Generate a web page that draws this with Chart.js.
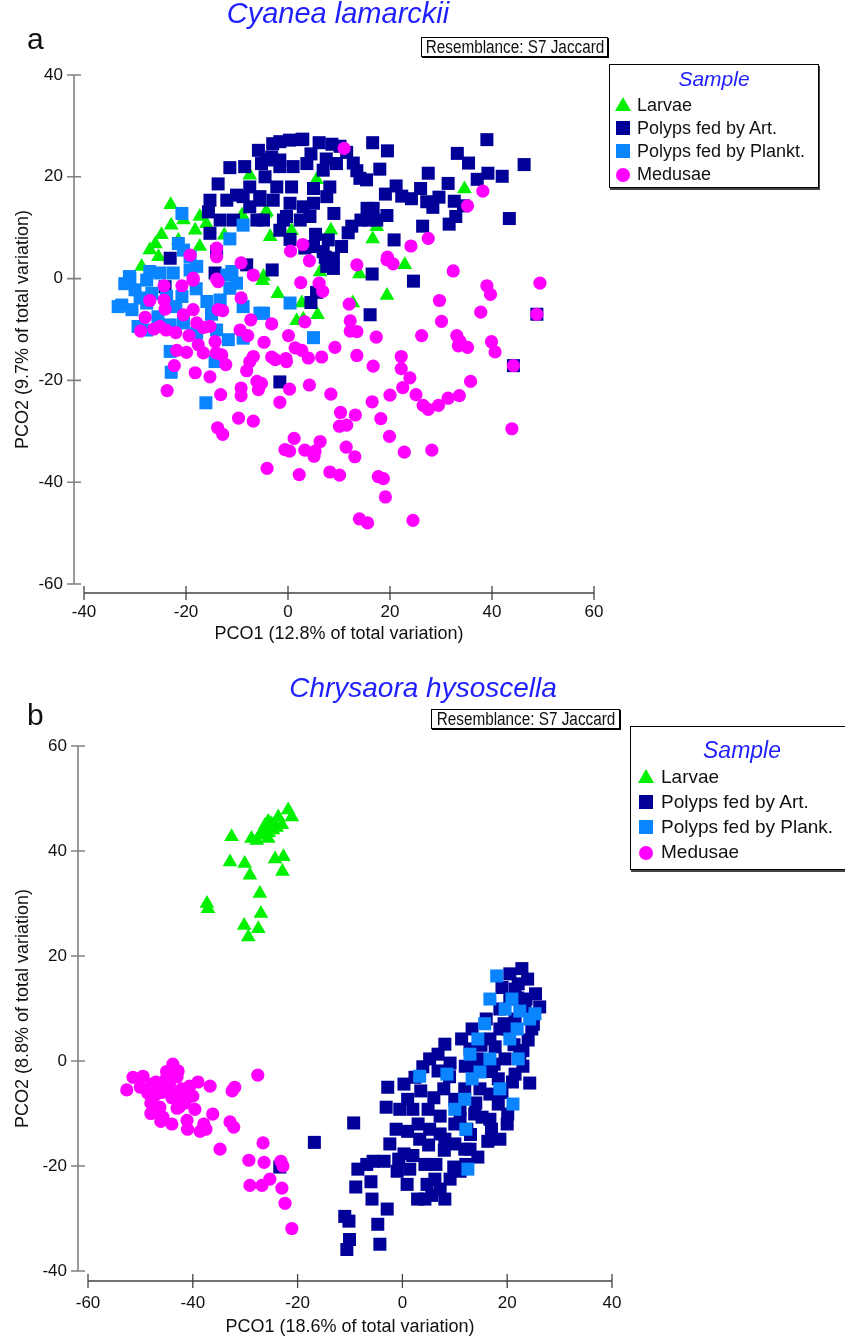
<!DOCTYPE html>
<html>
<head>
<meta charset="utf-8">
<script src="https://cdn.jsdelivr.net/npm/chart.js"></script>
<style>
  body { margin: 0; background: #fff; font-family: Arial, "Liberation Sans", sans-serif; color: #111; }
  #page { position: relative; width: 845px; height: 1339px; overflow: hidden; }
  canvas { position: absolute; left: 0; }
  .abs { position: absolute; white-space: nowrap; }
  .title { font-style: italic; color: #1e1eff; transform: translateX(-50%); }
  .letter { font-size: 30px; line-height: 30px; }
  .resem { border: 1px solid #000; box-shadow: 1px 1px 0 #000; background: #fff; }
  .resem span { position: absolute; left: 50%; top: 0; white-space: nowrap; transform: translateX(-50%) scaleX(0.85); }
  .legend { border: 1px solid #000; box-shadow: 1px 2px 0 #444; background: #fff; }
  .legend .head { position: absolute; left: 0; right: 0; text-align: center; font-style: italic; color: #1e1eff; }
  .legend .row { position: absolute; white-space: nowrap; }
  .mk { position: absolute; }
</style>
</head>
<body>
<div id="page">
  <canvas id="chartA" width="845" height="660" style="top:0"></canvas>
  <canvas id="chartB" width="845" height="669" style="top:670px"></canvas>

  <div class="abs letter" style="left:27px;top:24px;">a</div>
  <div class="abs title" style="left:338px;top:-3px;font-size:29px;line-height:32px;">Cyanea lamarckii</div>
  <div class="abs resem" style="left:421px;top:37px;width:185px;height:18px;font-size:18px;line-height:18px;"><span>Resemblance: S7 Jaccard</span></div>
  <div class="abs legend" id="legendA" style="left:609px;top:64px;width:208px;height:122px;"></div>

  <div class="abs letter" style="left:27px;top:700px;">b</div>
  <div class="abs title" style="left:423px;top:672px;font-size:28px;line-height:32px;">Chrysaora hysoscella</div>
  <div class="abs resem" style="left:431px;top:709px;width:187px;height:18px;font-size:18px;line-height:18px;"><span>Resemblance: S7 Jaccard</span></div>
  <div class="abs legend" id="legendB" style="left:630px;top:726px;width:222px;height:142px;"></div>
</div>

<script>
// categories
const categoriesA = ['Larvae', 'Polyps fed by Art.', 'Polyps fed by Plankt.', 'Medusae'];
const categoriesB = ['Larvae', 'Polyps fed by Art.', 'Polyps fed by Plank.', 'Medusae'];
const colours = ['#00f000', '#000099', '#0a84ff', '#ff00ff'];

// axis ticks
const xTicksA = [-40, -20, 0, 20, 40, 60];
const yTicksA = [-60, -40, -20, 0, 20, 40];
const xTicksB = [-60, -40, -20, 0, 20, 40];
const yTicksB = [-40, -20, 0, 20, 40, 60];

// ---- panel a: Cyanea lamarckii (PCO1, PCO2) ----
const larvaeA = [[6.3,1.3],[14.0,0.9],[22.9,2.7],[19.4,-3.3],[2.7,-4.8],[12.7,-4.8],[5.8,-7.1],[1.7,-8.3],[-5.0,-0.4],
  [34.6,17.6],[16.6,7.8],[8.4,9.5],[0.7,9.4],[-3.5,8.2],[-4.5,12.8],[17.4,10.2],[5.6,19.4],[-23.0,14.5],[-17.3,12.2],
  [-18.2,9.5],[-22.9,10.5],[-24.8,8.6],[-27.1,5.6],[-28.7,2.4],[-25.4,4.3],[-7.5,20.3],[-4.8,0.4],[-17.3,6.3],[-4.2,13.1],
  [-20.5,11.5],[-16.0,10.8],[-21.5,7.5],[-26.0,6.8],[-12.5,8.5],[-9.0,12.5],[-2.0,-3.0],[3.0,-8.0]];

const artA = [[-3.1,1.7],[8.9,2.0],[16.5,0.9],[24.6,-0.5],[5.6,-2.7],[4.5,-4.7],[16.1,-7.1],[48.8,-7.0],[44.2,-17.1],[-1.6,-20.3],
  [0.3,27.2],[2.9,27.4],[6.1,26.7],[8.6,26.4],[10.2,26.0],[16.6,26.7],[19.5,25.1],[39.0,27.3],[33.2,24.6],[35.4,22.7],
  [46.3,22.4],[27.5,20.7],[31.4,18.7],[39.2,20.7],[37.1,19.5],[42.0,20.1],[21.2,18.2],[19.1,16.6],[26.0,17.7],[22.3,16.2],
  [24.2,15.7],[27.2,15.1],[29.6,16.0],[28.4,14.0],[32.6,15.2],[34.4,14.3],[32.9,12.2],[31.6,10.7],[26.4,10.3],[43.4,11.8],
  [20.8,7.6],[15.5,13.8],[16.7,13.8],[19.4,12.4],[17.4,11.5],[15.7,11.5],[14.3,11.5],[12.5,10.3],[11.8,9.0],[10.5,6.3],
  [9.0,12.8],[7.9,7.6],[7.3,4.2],[0.4,7.7],[3.3,6.0],[5.4,8.7],
  [-4.2,23.3],[-1.6,23.3],[1.0,22.0],[3.7,22.6],[6.9,21.3],[9.5,22.6],[12.8,22.7],[14.1,19.7],[15.4,19.4],[-2.2,18.0],
  [0.7,18.0],[5.0,17.7],[8.2,18.0],[-5.5,16.1],[-2.9,15.4],[0.4,14.8],[3.0,14.1],[5.0,14.8],[7.6,16.1],[-0.3,12.2],
  [2.4,11.5],[4.3,12.2],[-4.8,11.5],
  [-5.8,25.2],[-1.6,26.9],[2.7,27.3],[-11.4,21.8],[-13.7,18.6],[-15.3,15.4],[-15.6,13.1],[-15.3,8.9],[-12.0,15.4],[-10.1,16.4],
  [-7.5,18.0],[-4.5,20.0],[-1.6,22.0],[-3.2,23.9],[-5.2,22.6],[-13.3,11.5],[-10.7,11.5],[-6.1,11.5],[-7.5,14.1],[-8.8,16.1],
  [-5.5,15.4],[-0.9,11.5],[-1.6,9.5],[8.9,4.0],[7.6,2.4],[5.0,6.3],[-14.0,5.3],[-23.1,4.0],[-14.3,1.1],[-8.1,2.7],[6.9,5.3],
  [-24.1,-1.6],[11.5,24.8],[13.5,21.2],[18.0,21.5],[-8.5,22.0],[4.5,24.5],[7.5,23.5],[-3.0,26.5]];

const planktA = [[0.4,-4.8],[-4.8,-6.8],[5.0,-11.6],
  [-20.8,12.8],[-8.8,10.5],[-11.4,7.8],[-21.5,6.9],[-20.5,5.6],[-19.2,4.3],[-17.9,2.4],[-22.5,1.1],[-27.1,1.4],[-31.1,0.4],[-11.0,1.4],
  [-31.0,0.1],[-27.7,-0.3],[-30.0,-2.2],[-32.6,-5.2],[-26.7,-2.9],[-20.8,-3.5],[-19.2,1.7],[-12.0,0.7],[-10.1,-0.9],[-15.9,-4.5],
  [-13.3,-4.2],[-8.8,-5.5],[-5.5,-6.8],[-29.4,-9.4],[-27.7,-10.1],[-23.1,-9.1],[-20.5,-8.7],[-17.9,-10.7],[-14.0,-10.1],[-11.7,-12.0],
  [-8.8,-11.7],[-23.1,-14.3],[-14.3,-16.3],[-22.9,-18.4],[-16.1,-24.4],[-11.4,-1.9],[-23.8,-3.5],[-25.1,1.1],[-30.6,-6.1],[-27.7,-4.8],
  [-33.3,-5.5],[-18.0,-2.0],[-22.0,-5.5],[-15.0,-7.0],[-25.5,-7.5],[-32.0,-1.0],[-29.0,-3.8]];

const medusaeA = [[4.2,3.5],[13.5,2.7],[20.6,2.9],[19.4,3.7],[32.4,1.5],[49.4,-0.9],[39.0,-1.4],[39.7,-3.1],[2.5,-0.8],[6.1,-0.9],
  [6.8,-2.5],[12.0,-5.0],[29.7,-4.3],[37.8,-6.6],[48.8,-7.0],[-3.2,-8.9],[3.3,-8.5],[12.2,-8.3],[30.1,-8.4],[12.2,-10.3],
  [13.5,-10.4],[26.2,-11.2],[17.3,-11.5],[33.1,-11.2],[33.7,-12.3],[33.4,-13.2],[35.2,-13.5],[39.9,-12.4],[40.6,-14.4],[-4.7,-12.5],
  [0.1,-11.2],[1.4,-13.6],[2.7,-14.1],[4.0,-15.6],[6.6,-15.4],[9.2,-13.5],[13.5,-15.1],[-3.2,-15.4],[-2.5,-15.9],[-0.4,-15.7],
  [-0.3,-16.3],[16.7,-17.2],[22.2,-15.3],[22.2,-17.7],[23.9,-19.5],[44.2,-17.1],[35.8,-20.2],[-5.2,-20.6],[0.3,-21.7],[4.2,-20.9],
  [8.4,-22.7],[20.0,-22.9],[22.5,-21.4],[25.1,-22.8],[26.5,-24.9],[27.5,-25.7],[29.5,-24.9],[31.4,-23.5],[33.6,-23.0],[-1.6,-24.3],
  [16.5,-24.2],[10.3,-26.3],[13.2,-26.8],[18.2,-27.5],[10.1,-29.0],[11.5,-28.8],[43.9,-29.5],[19.9,-31.0],[1.2,-31.4],[6.3,-32.0],
  [-0.6,-33.6],[0.3,-33.9],[3.3,-33.7],[5.3,-33.9],[5.1,-34.9],[11.4,-33.1],[13.1,-35.0],[22.8,-34.1],[28.2,-33.7],[-4.1,-37.3],
  [2.2,-38.5],[8.2,-38.0],[10.1,-38.6],[17.7,-38.9],[18.7,-39.3],[19.1,-42.9],[14.0,-47.2],[15.6,-48.0],[24.5,-47.5],
  [11.0,25.6],[38.2,17.2],[35.2,14.3],[27.5,7.9],[24.1,6.4],[19.5,4.2],[0.5,5.4],[2.9,6.7],
  [-14.0,6.0],[-19.2,4.6],[-14.0,4.3],[-9.2,3.1],[-6.8,0.7],[-18.6,0.1],[-14.0,-0.1],
  [-24.3,-1.4],[-20.8,-1.4],[-18.6,-0.3],[-13.7,-0.6],[-27.1,-4.3],[-24.3,-4.2],[-24.1,-6.0],[-18.6,-6.1],[-20.5,-7.1],[-13.7,-6.1],
  [-12.8,-6.3],[-9.2,-3.8],[-7.3,-8.1],[-28.0,-7.6],[-28.9,-10.3],[-26.3,-9.9],[-25.1,-9.4],[-23.9,-10.1],[-22.0,-10.6],[-19.4,-11.2],
  [-17.9,-8.7],[-16.6,-9.6],[-15.3,-9.4],[-9.4,-10.1],[-7.9,-11.2],[-14.3,-12.4],[-21.8,-14.1],[-19.9,-14.5],[-17.6,-13.0],[-16.6,-14.6],
  [-14.1,-14.6],[-13.0,-15.0],[-12.2,-16.9],[-6.8,-15.3],[-7.5,-16.3],[-8.1,-18.1],[-22.3,-17.1],[-18.2,-18.5],[-15.3,-19.3],[-23.7,-22.0],
  [-13.2,-22.8],[-9.2,-21.5],[-9.2,-23.0],[-6.1,-20.2],[-5.8,-21.8],[-9.7,-27.4],[-6.8,-28.0],[-13.8,-29.3],[-12.8,-30.6]];

// ---- panel b: Chrysaora hysoscella ----
const larvaeB = [[-21.8,47.8],[-21.1,46.5],[-23.7,46.5],[-25.6,45.6],[-25.0,45.2],[-26.2,44.9],[-24.7,44.0],[-26.6,43.6],[-27.2,43.0],
  [-28.8,42.4],[-27.8,42.0],[-25.6,42.4],[-32.6,42.7],[-24.3,38.5],[-22.7,38.9],[-22.9,36.1],[-32.9,37.9],[-30.1,37.6],[-29.1,35.4],
  [-27.2,31.9],[-37.3,30.0],[-37.1,29.0],[-27.0,28.1],[-30.2,25.8],[-27.5,25.2],[-29.4,23.6],[-24.0,44.5],[-25.5,43.5],[-23.0,45.0]];

const artB = [[-16.8,-15.5],[-9.3,-11.8],[-8.9,-24.0],[-11.0,-29.6],[-10.2,-30.5],[-10.6,-35.9],[-10.1,-34.0],[-4.3,-34.9],[-4.7,-31.1],
  [-2.9,-28.2],[-5.8,-26.3],[-8.5,-20.6],[-6.8,-19.7],[-5.6,-19.1],[-3.5,-19.1],[-0.7,-18.7],[0.9,-23.5],[2.9,-26.3],[4.3,-26.3],
  [4.7,-23.5],[5.6,-25.6],[7.2,-24.4],[9.1,-22.5],[9.8,-20.2],[11.0,-21.0],[12.1,-19.7],[12.9,-16.8],[14.4,-18.3],[16.3,-15.3],
  [18.6,-14.9],[-2.4,-15.8],[-1.2,-13.0],[-0.5,-9.2],[1.0,-13.4],[2.0,-9.2],[3.5,-5.7],[4.9,-9.2],[5.2,-13.0],[7.2,-10.5],
  [7.9,-5.3],[6.8,-1.9],[9.1,-0.4],[10.0,-7.3],[11.0,-9.2],[11.9,-5.3],[12.9,2.3],[13.8,-1.5],[14.8,-5.3],[15.2,-10.7],
  [16.7,4.2],[17.5,-0.6],[18.3,-8.2],[19.4,7.1],[20.5,11.8],[21.3,3.1],[22.1,14.7],[22.8,17.6],[23.4,9.9],[24.7,6.1],
  [24.3,-4.2],[21.5,-2.5],[20.1,-10.1],[22.4,0.8],[26.2,10.3],[25.4,12.8],[18.6,9.9],[13.3,6.1],[11.3,4.2],[8.1,3.2],
  [6.8,1.3],[5.2,0.4],[3.9,-1.1],[2.4,-3.1],[0.3,-4.4],[-2.8,-5.0],[1.0,-7.3],[-3.1,-8.8],[0.3,-17.7],[4.3,-19.7],
  [6.4,-19.7],[8.1,-14.9],[10.0,-15.8],[12.3,-13.0],[13.8,-10.1],[16.7,-6.3],[18.3,-3.4],[19.6,0.4],[15.7,-1.5],[14.4,0.4],
  [17.7,2.7],[20.1,6.1],[21.5,8.0],[23.9,15.6],[20.5,16.6],[21.5,13.7],[23.6,11.8],[18.6,6.1],[16.7,-11.1],[11.9,-16.8],
  [10.0,-12.0],[7.2,-13.9],[3.3,-14.9],[1.4,-20.6],[6.2,-22.5],[8.1,-26.3],[-23.4,-20.2],
  [3.0,-12.0],[6.0,-7.0],[9.0,-3.0],[12.0,-1.0],[15.0,3.0],[17.0,-2.0],[19.0,-6.0],[21.0,-4.0],[23.0,2.0],[24.0,4.0],
  [22.0,12.0],[19.0,14.0],[16.0,8.0],[14.0,-8.0],[11.0,-11.0],[8.0,-17.0],[5.0,-16.0],[2.0,-18.0],[-1.0,-21.0],[-6.0,-23.0],
  [13.0,-14.0],[17.0,-13.0],[20.0,-12.0],[23.0,-1.0],[25.0,7.0]];

const planktB = [[18.0,16.2],[20.9,11.8],[22.4,9.5],[25.3,9.0],[19.6,9.9],[16.7,11.8],[15.7,7.1],[14.4,4.2],[12.9,1.3],[21.9,6.1],
  [20.5,4.2],[22.1,0.4],[16.7,0.4],[14.8,-2.1],[13.3,-3.4],[11.9,-7.3],[10.0,-9.2],[12.1,-13.0],[12.5,-20.6],[8.5,-2.5],
  [3.3,-2.9],[21.1,-8.2],[18.6,-5.3],[24.3,8.0]];

const medusaeB = [[-52.6,-5.5],[-51.4,-3.1],[-49.5,-2.9],[-48.6,-6.1],[-47.8,-4.4],[-47.2,-6.5],[-46.3,-8.8],[-45.7,-10.7],[-45.1,-3.4],
  [-44.4,-4.2],[-43.8,-0.6],[-43.4,-6.7],[-42.8,-1.9],[-42.6,-8.8],[-42.1,-5.3],[-41.5,-8.0],[-41.1,-11.3],[-40.6,-4.8],[-40.0,-6.7],
  [-39.6,-9.2],[-38.6,-13.4],[-37.9,-12.0],[-37.5,-13.0],[-36.7,-4.8],[-36.2,-10.1],[-34.8,-16.8],[-32.9,-11.6],[-32.5,-5.7],[-32.0,-5.0],
  [-32.2,-12.6],[-29.3,-18.9],[-27.6,-2.7],[-26.6,-15.6],[-26.4,-19.3],[-29.1,-23.7],[-26.8,-23.7],[-25.3,-22.5],[-23.2,-19.1],[-23.0,-24.2],
  [-22.8,-20.0],[-22.4,-27.1],[-21.1,-31.9],[-46.9,-9.2],[-46.1,-11.5],
  [-44.0,-7.0],[-45.0,-5.0],[-43.0,-9.0],[-47.0,-4.0],[-48.0,-8.0],[-44.0,-12.0],[-41.0,-13.0],[-43.0,-3.0],[-45.0,-2.0],[-46.0,-6.0],
  [-50.0,-5.0],[-43.0,-6.0],[-41.0,-7.0],[-39.0,-4.0],[-48.0,-10.0]];

const toXY = arr => arr.map(p => ({ x: p[0], y: p[1] }));

// axis lines drawn a few pixels away from the plot area, with ticks crossing them
const axisLines = {
  id: 'axisLines',
  afterDraw(chart, args, opts) {
    const { ctx, chartArea } = chart;
    const xs = chart.scales.x, ys = chart.scales.y;
    const ax = chartArea.left - opts.yGap;
    const ay = chartArea.bottom + opts.xGap;
    ctx.save();
    ctx.strokeStyle = '#808080';
    ctx.lineWidth = 1.6;
    ctx.beginPath();
    ctx.moveTo(ax, ys.getPixelForValue(opts.yTicks[0]));
    ctx.lineTo(ax, ys.getPixelForValue(opts.yTicks[opts.yTicks.length - 1]));
    opts.yTicks.forEach(v => {
      const p = ys.getPixelForValue(v);
      ctx.moveTo(ax - 7, p);
      ctx.lineTo(ax + 7, p);
    });
    ctx.stroke();
    ctx.strokeStyle = '#444';
    ctx.lineWidth = 1.3;
    ctx.beginPath();
    ctx.moveTo(xs.getPixelForValue(opts.xTicks[0]), ay);
    ctx.lineTo(xs.getPixelForValue(opts.xTicks[opts.xTicks.length - 1]), ay);
    opts.xTicks.forEach(v => {
      const p = xs.getPixelForValue(v);
      ctx.moveTo(p, ay - 7);
      ctx.lineTo(p, ay + 7);
    });
    ctx.stroke();
    ctx.restore();
  }
};

function datasets(cats, l, a, p, m) {
  return [
    { label: cats[0], data: toXY(l), pointStyle: 'triangle', pointRadius: 8.5, backgroundColor: colours[0], order: 4 },
    { label: cats[1], data: toXY(a), pointStyle: 'rect', pointRadius: 9.2, backgroundColor: colours[1], order: 3 },
    { label: cats[2], data: toXY(p), pointStyle: 'rect', pointRadius: 9.2, backgroundColor: colours[2], order: 2 },
    { label: cats[3], data: toXY(m), pointStyle: 'circle', pointRadius: 6.6, backgroundColor: colours[3], order: 1 }
  ].map(d => Object.assign(d, { borderWidth: 0, pointHoverRadius: d.pointRadius, clip: false }));
}

const family = 'Arial, "Liberation Sans", sans-serif';
const tickFont = { size: 17, family: family };
const titleFont = { size: 18, family: family };

function makeChart(id, sets, c) {
  return new Chart(document.getElementById(id), {
    type: 'scatter',
    data: { datasets: sets },
    options: {
      responsive: false,
      animation: false,
      events: [],
      layout: { padding: c.padding },
      plugins: {
        legend: { display: false },
        tooltip: { enabled: false },
        axisLines: { xGap: c.xGap, yGap: 10, xTicks: c.xTicks, yTicks: c.yTicks }
      },
      scales: {
        x: {
          type: 'linear', min: c.xTicks[0], max: c.xTicks[c.xTicks.length - 1],
          grid: { display: false, drawTicks: false }, border: { display: false },
          ticks: { stepSize: 20, padding: c.xPad, color: '#111', font: tickFont, maxRotation: 0 },
          title: { display: true, text: c.xTitle, color: '#111', font: titleFont, padding: { top: 0, bottom: c.xTitlePad } },
          afterFit: s => { s.height = c.xHeight; }
        },
        y: {
          type: 'linear', min: c.yTicks[0], max: c.yTicks[c.yTicks.length - 1],
          grid: { display: false, drawTicks: false }, border: { display: false },
          ticks: { stepSize: 20, padding: 21, color: '#111', font: tickFont },
          title: { display: true, text: c.yTitle, color: '#111', font: titleFont, padding: { top: 12, bottom: 0 } },
          afterFit: s => { s.width = c.yWidth; }
        }
      }
    },
    plugins: [axisLines]
  });
}

makeChart('chartA', datasets(categoriesA, larvaeA, artA, planktA, medusaeA), {
  padding: { left: 0, top: 75, right: 251, bottom: 0 },
  yWidth: 84, xHeight: 76, xGap: 9, xPad: 18, xTitlePad: 15,
  xTicks: xTicksA, yTicks: yTicksA,
  xTitle: 'PCO1 (12.8% of total variation)', yTitle: 'PCO2 (9.7% of total variation)'
});

makeChart('chartB', datasets(categoriesB, larvaeB, artB, planktB, medusaeB), {
  padding: { left: 0, top: 76, right: 233, bottom: 0 },
  yWidth: 88, xHeight: 68, xGap: 10, xPad: 22, xTitlePad: 1,
  xTicks: xTicksB, yTicks: yTicksB,
  xTitle: 'PCO1 (18.6% of total variation)', yTitle: 'PCO2 (8.8% of total variation)'
});

// legend boxes
function buildLegend(id, cats, g) {
  const box = document.getElementById(id);
  const head = document.createElement('div');
  head.className = 'head';
  head.textContent = 'Sample';
  head.style.cssText = `top:${g.headTop}px;font-size:${g.headSize}px;line-height:${g.headSize + 4}px;`;
  box.appendChild(head);
  const shapes = ['tri', 'sq', 'sq', 'dot'];
  cats.forEach((name, i) => {
    const cy = g.rowTop + i * g.rowStep;
    const mk = document.createElement('div');
    mk.className = 'mk';
    if (shapes[i] === 'tri') {
      mk.style.cssText = `left:${g.mkX - 8}px;top:${cy - 8}px;width:0;height:0;border-left:8px solid transparent;border-right:8px solid transparent;border-bottom:14px solid ${colours[i]};`;
    } else if (shapes[i] === 'sq') {
      mk.style.cssText = `left:${g.mkX - 7}px;top:${cy - 7}px;width:14px;height:14px;background:${colours[i]};`;
    } else {
      mk.style.cssText = `left:${g.mkX - 7}px;top:${cy - 6}px;width:14px;height:14px;border-radius:50%;background:${colours[i]};`;
    }
    box.appendChild(mk);
    const row = document.createElement('div');
    row.className = 'row';
    row.textContent = name;
    row.style.cssText = `left:${g.textX}px;top:${cy - 12}px;font-size:${g.size}px;line-height:24px;`;
    box.appendChild(row);
  });
}

buildLegend('legendA', categoriesA, { headTop: 1, headSize: 21, rowTop: 40, rowStep: 23, mkX: 13, textX: 27, size: 18 });
buildLegend('legendB', categoriesB, { headTop: 10, headSize: 23, rowTop: 50, rowStep: 25, mkX: 15, textX: 30, size: 19 });
</script>
</body>
</html>
